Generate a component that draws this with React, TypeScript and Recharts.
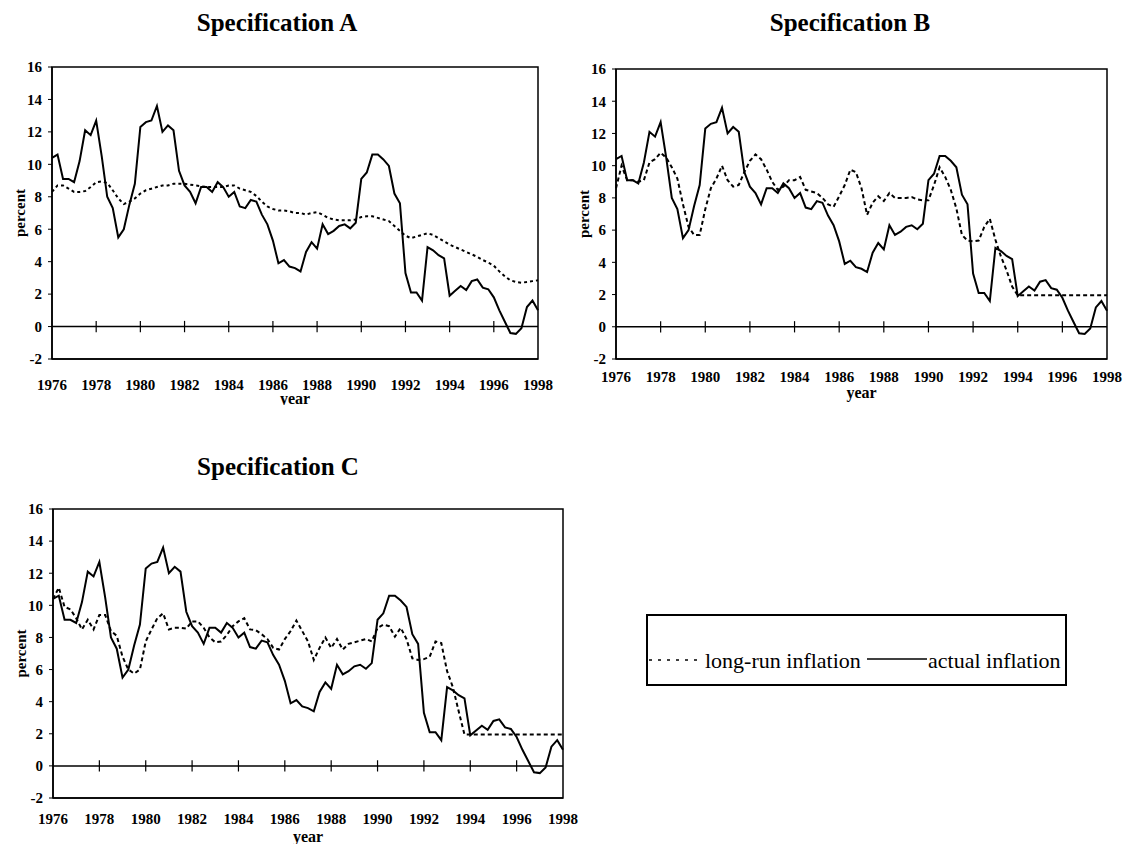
import React from "react"
import { LineChart, Line, XAxis, YAxis, ReferenceLine, ReferenceArea } from "recharts"

// quarterly inflation, 1976Q1 .. 1998Q1 (percent)
const actualInflation = [
  10.4, 10.6, 9.1, 9.1, 8.9, 10.2, 12.1, 11.8, 12.7, 10.5, 8.0, 7.3,
  5.5, 6.0, 7.5, 8.8, 12.3, 12.6, 12.7, 13.6, 12.0, 12.4, 12.1, 9.6,
  8.7, 8.3, 7.6, 8.6, 8.6, 8.3, 8.9, 8.6, 8.0, 8.3, 7.4, 7.3,
  7.8, 7.7, 6.9, 6.3, 5.3, 3.9, 4.1, 3.7, 3.6, 3.4, 4.6, 5.2,
  4.8, 6.3, 5.7, 5.9, 6.2, 6.3, 6.05, 6.4, 9.1, 9.5, 10.6, 10.6,
  10.3, 9.9, 8.2, 7.6, 3.3, 2.1, 2.1, 1.6, 4.9, 4.7, 4.4, 4.2,
  1.9, 2.2, 2.5, 2.25, 2.8, 2.9, 2.4, 2.3, 1.8, 1.0, 0.3, -0.4,
  -0.45, -0.1, 1.2, 1.6, 1.0,
]

const longRunA = [
  8.3, 8.7, 8.7, 8.5, 8.3, 8.3, 8.35, 8.6, 8.9, 8.95, 8.85, 8.4,
  7.9, 7.55, 7.7, 7.9, 8.2, 8.4, 8.5, 8.6, 8.7, 8.7, 8.8, 8.8,
  8.8, 8.75, 8.7, 8.65, 8.6, 8.6, 8.6, 8.6, 8.7, 8.7, 8.5, 8.4,
  8.3, 8.05, 7.7, 7.4, 7.25, 7.15, 7.15, 7.1, 7.0, 7.0, 6.9, 7.0,
  7.05, 6.9, 6.7, 6.6, 6.55, 6.55, 6.55, 6.6, 6.75, 6.8, 6.8, 6.7,
  6.6, 6.5, 6.2, 5.9, 5.6, 5.45, 5.55, 5.65, 5.75, 5.65, 5.45, 5.25,
  5.05, 4.9, 4.75, 4.6, 4.45, 4.3, 4.1, 3.95, 3.75, 3.4, 3.1, 2.85,
  2.75, 2.7, 2.75, 2.8, 2.85,
]

const longRunB = [
  8.6, 10.0, 9.1, 9.1, 9.0, 9.1, 10.2, 10.4, 10.8, 10.5, 9.9, 9.2,
  7.6, 6.2, 5.7, 5.7, 7.3, 8.6, 9.2, 10.0, 9.1, 8.7, 8.8, 9.6,
  10.3, 10.7, 10.4, 9.75, 9.0, 8.5, 8.7, 9.1, 9.1, 9.3, 8.5, 8.4,
  8.3, 8.0, 7.6, 7.45, 8.1, 8.8, 9.75, 9.6, 8.6, 6.95, 7.7, 8.1,
  7.8, 8.3, 8.0, 8.0, 8.0, 8.05, 7.9, 7.85, 7.85, 8.8, 9.9, 9.3,
  8.5, 7.35, 5.7, 5.35, 5.3, 5.35, 6.2, 6.7, 5.4, 4.35, 3.5, 2.5,
  1.95, 1.95, 1.95, 1.95, 1.95, 1.95, 1.95, 1.95, 1.95, 1.95, 1.95, 1.95,
  1.95, 1.95, 1.95, 1.95, 1.95,
]

const longRunC = [
  10.4, 11.1, 9.9, 9.75, 9.2, 8.5, 9.1, 8.5, 9.4, 9.4, 8.4, 8.1,
  6.8, 6.0, 5.75, 6.0, 7.75, 8.5, 9.2, 9.5, 8.5, 8.6, 8.6, 8.55,
  9.0, 9.0, 8.6, 8.0, 7.7, 7.75, 8.15, 8.7, 9.0, 9.2, 8.5, 8.45,
  8.2, 7.9, 7.35, 7.25, 7.9, 8.4, 9.05, 8.4, 7.75, 6.6, 7.35, 8.0,
  7.35, 7.9, 7.25, 7.6, 7.7, 7.8, 7.9, 7.75, 8.6, 8.8, 8.7, 8.05,
  8.6, 7.9, 6.7, 6.6, 6.65, 6.8, 7.75, 7.65, 5.9, 4.9, 3.4, 1.95,
  1.95, 1.95, 1.95, 1.95, 1.95, 1.95, 1.95, 1.95, 1.95, 1.95, 1.95, 1.95,
  1.95, 1.95, 1.95, 1.95, 1.95,
]

const yearTicks = [1976, 1978, 1980, 1982, 1984, 1986, 1988, 1990, 1992, 1994, 1996, 1998]
const zeroLineMarks = [1978, 1980, 1982, 1984, 1986, 1988, 1990, 1992, 1994, 1996]
const percentTicks = [-2, 0, 2, 4, 6, 8, 10, 12, 14, 16]

const serif = "'Liberation Serif', 'Times New Roman', serif"

const buildRows = (longRun: number[]) =>
  actualInflation.map((v, i) => ({ year: 1976 + i / 4, actual: v, longRun: longRun[i] }))

const percentLabel = (props: any) => {
  const { viewBox } = props
  const cx = viewBox.x + 8
  const cy = viewBox.y + viewBox.height / 2
  return (
    <text x={cx} y={cy} transform={`rotate(-90, ${cx}, ${cy})`} textAnchor="middle"
      dominantBaseline="central" fontFamily={serif} fontWeight="bold" fontSize={15} fill="#000">
      percent
    </text>
  )
}

const yearLabel = (offset: number) => (props: any) => {
  const { viewBox } = props
  return (
    <text x={viewBox.x + viewBox.width / 2} y={viewBox.y + offset} textAnchor="middle"
      dominantBaseline="central" fontFamily={serif} fontWeight="bold" fontSize={16} fill="#000">
      year
    </text>
  )
}

type PanelProps = {
  longRun: number[]
  left: number
  top: number
  width: number
  height: number
  margin: { top: number; right: number; bottom: number; left: number }
  tickGap: number
  yearOffset: number
  dash: string
}

const Panel: React.FC<PanelProps> = ({ longRun, left, top, width, height, margin, tickGap, yearOffset, dash }) => {
  const rows = buildRows(longRun)
  const tickStyle = { fontFamily: serif, fontWeight: "bold", fontSize: 15, fill: "#000" }
  return (
    <div style={{ position: "absolute", left, top }}>
      <LineChart width={width} height={height} data={rows} margin={margin}>
        <XAxis dataKey="year" type="number" domain={[1976, 1998]} ticks={yearTicks} interval={0}
          tickLine={false} tickSize={0} tickMargin={tickGap} height={46}
          axisLine={{ stroke: "#000", strokeWidth: 1.5 }} tick={tickStyle}
          label={{ content: yearLabel(yearOffset) }} />
        <YAxis type="number" domain={[-2, 16]} ticks={percentTicks} interval={0} width={40}
          tickSize={4} tickMargin={6} tickLine={{ stroke: "#000" }}
          axisLine={{ stroke: "#000", strokeWidth: 1.5 }} tick={tickStyle}
          label={{ content: percentLabel }} />
        <ReferenceArea x1={1976} x2={1998} y1={-2} y2={16} fill="none" stroke="#000" strokeWidth={1.5} fillOpacity={0} />
        <ReferenceLine y={0} stroke="#000" strokeWidth={1.5} />
        {zeroLineMarks.map((yr) => (
          <ReferenceLine key={yr} segment={[{ x: yr, y: -0.35 }, { x: yr, y: 0.35 }]} stroke="#000" strokeWidth={1.2} />
        ))}
        <Line type="linear" dataKey="longRun" stroke="#000" strokeWidth={2} strokeDasharray={dash}
          dot={false} isAnimationActive={false} />
        <Line type="linear" dataKey="actual" stroke="#000" strokeWidth={2} dot={false} isAnimationActive={false} />
      </LineChart>
    </div>
  )
}

const Title: React.FC<{ cx: number; cy: number; text: string }> = ({ cx, cy, text }) => (
  <div style={{
    position: "absolute", left: cx - 150, width: 300, top: cy - 15, height: 30, lineHeight: "30px",
    textAlign: "center", fontFamily: serif, fontWeight: "bold", fontSize: 25, color: "#000",
  }}>{text}</div>
)

const LegendBox = () => (
  <svg style={{ position: "absolute", left: 640, top: 605 }} width={440} height={90}>
    <rect x={7} y={10} width={419} height={70} fill="#fff" stroke="#000" strokeWidth={2} />
    <line x1={9} y1={55} x2={63} y2={55} stroke="#000" strokeWidth={1.5} strokeDasharray="3 6" />
    <text x={65} y={55} dominantBaseline="central" fontFamily={serif} fontSize={22} fill="#000">long-run inflation</text>
    <line x1={227} y1={54} x2={287} y2={54} stroke="#000" strokeWidth={1.5} />
    <text x={288} y={55} dominantBaseline="central" fontFamily={serif} fontSize={22} fill="#000">actual inflation</text>
  </svg>
)

export default function App() {
  return (
    <div style={{ position: "absolute", left: 0, top: 0, width: 1125, height: 846, background: "#fff" }}>
      <Title cx={277} cy={23} text="Specification A" />
      <Title cx={850} cy={23} text="Specification B" />
      <Title cx={278} cy={467} text="Specification C" />
      <Panel longRun={longRunA} left={0} top={50} width={560} height={355}
        margin={{ top: 17, right: 22, bottom: 0, left: 12 }} tickGap={20} yearOffset={39} dash="3 3" />
      <Panel longRun={longRunB} left={560} top={50} width={565} height={355}
        margin={{ top: 19, right: 18, bottom: 0, left: 16 }} tickGap={12} yearOffset={33} dash="4 3" />
      <Panel longRun={longRunC} left={0} top={490} width={580} height={354}
        margin={{ top: 19, right: 17, bottom: 0, left: 13 }} tickGap={15} yearOffset={38} dash="4 3" />
      <LegendBox />
    </div>
  )
}
